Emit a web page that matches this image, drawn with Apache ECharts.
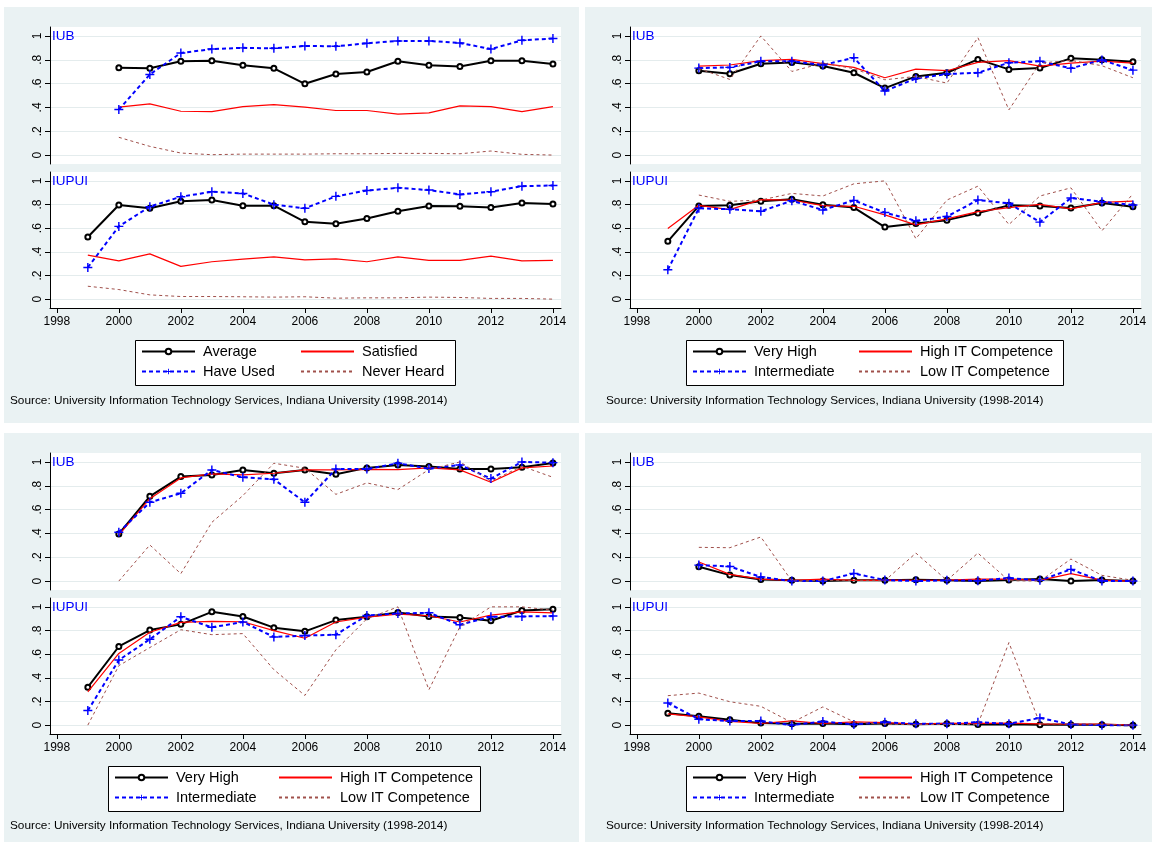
<!DOCTYPE html>
<html>
<head>
<meta charset="utf-8">
<script src="https://cdn.jsdelivr.net/npm/echarts@6/dist/echarts.min.js"></script>
<style>
  html, body { margin: 0; padding: 0; background: #ffffff; }
  #chart { width: 1152px; height: 842px; }
</style>
</head>
<body>
<div id="chart"></div>
<script>
// ---- Data -------------------------------------------------------------
const years = [1999, 2000, 2001, 2002, 2003, 2004, 2005, 2006, 2007, 2008, 2009, 2010, 2011, 2012, 2013, 2014];
const xTicks = [1998, 2000, 2002, 2004, 2006, 2008, 2010, 2012, 2014];
const yTicks = [0, 0.2, 0.4, 0.6, 0.8, 1];
const campuses = ['IUB', 'IUPUI'];
const awarenessNames = ['Average', 'Satisfied', 'Have Used', 'Never Heard'];
const competenceNames = ['Very High', 'High IT Competence', 'Intermediate', 'Low IT Competence'];
const sourceNote = 'Source: University Information Technology Services, Indiana University (1998-2014)';

// Panel A: awareness / use / satisfaction
const aIubAverage    = [null, .733, .728, .787, .792, .753, .728, .598, .680, .697, .787, .753, .744, .792, .792, .764];
const aIubSatisfied  = [null, .402, .430, .368, .365, .407, .424, .402, .374, .374, .343, .354, .413, .407, .365, .407];
const aIubHaveUsed   = [null, .382, .677, .857, .890, .900, .896, .916, .913, .938, .958, .958, .941, .890, .963, .978];
const aIubNeverHeard = [null, .149, .073, .017, .003, .008, .008, .008, .011, .011, .014, .014, .011, .034, .006, .000];

const aIupuiAverage    = [.525, .796, .768, .827, .838, .790, .790, .654, .637, .682, .743, .788, .785, .774, .813, .804];
const aIupuiSatisfied  = [.372, .324, .383, .277, .316, .338, .358, .332, .341, .316, .358, .327, .327, .363, .324, .327];
const aIupuiHaveUsed   = [.268, .615, .782, .866, .908, .894, .799, .768, .869, .919, .941, .922, .885, .908, .955, .961];
const aIupuiNeverHeard = [.109, .081, .036, .022, .022, .020, .017, .020, .008, .011, .011, .017, .014, .006, .006, .000];

// Panel B: by IT competence
const bIubVeryHigh     = [null, .708, .683, .767, .778, .747, .691, .562, .660, .691, .803, .719, .730, .812, .800, .784];
const bIubHigh         = [null, .747, .756, .792, .803, .767, .736, .649, .722, .708, .778, .792, .747, .772, .789, .772];
const bIubIntermediate = [null, .730, .736, .787, .787, .756, .817, .537, .643, .680, .691, .775, .787, .728, .798, .713];
const bIubLow          = [null, .725, .635, 1.00, .702, .772, .725, .632, .660, .604, .986, .379, .772, .795, .750, .649];

const bIupuiVeryHigh     = [.489, .788, .793, .827, .844, .799, .774, .609, .640, .668, .729, .793, .788, .771, .813, .782];
const bIupuiHigh         = [.598, .793, .757, .841, .838, .790, .785, .712, .628, .679, .740, .774, .802, .763, .818, .829];
const bIupuiIntermediate = [.249, .768, .760, .743, .832, .754, .835, .732, .662, .698, .838, .810, .651, .855, .824, .796];
const bIupuiLow          = [null, .880, .827, .838, .894, .872, .975, 1.00, .511, .838, .955, .631, .872, .941, .578, .891];

// Panel C: by IT competence
const cIubVeryHigh     = [null, .395, .711, .877, .891, .933, .905, .933, .896, .950, .975, .961, .941, .941, .955, .992];
const cIubHigh         = [null, .387, .692, .866, .899, .891, .905, .933, .933, .938, .936, .950, .933, .829, .950, .966];
const cIubIntermediate = [null, .409, .661, .737, .933, .871, .854, .661, .941, .941, .989, .944, .975, .860, 1.00, .994];
const cIubLow          = [null, .000, .303, .062, .493, .717, .989, .947, .728, .824, .768, .936, 1.00, .838, .964, .871];

const cIupuiVeryHigh     = [.321, .665, .804, .852, .958, .919, .824, .793, .888, .916, .953, .919, .911, .883, .969, .980];
const cIupuiHigh         = [.282, .606, .785, .869, .877, .874, .799, .735, .872, .913, .939, .925, .872, .930, .958, .950];
const cIupuiIntermediate = [.123, .550, .726, .916, .827, .872, .746, .757, .765, .927, .944, .950, .849, .916, .919, .922];
const cIupuiLow          = [.000, .503, .656, .807, .765, .774, .469, .251, .637, .899, 1.00, .299, .832, 1.00, 1.00, .972];

// Panel D: by IT competence
const dIubVeryHigh     = [null, .120, .050, .014, .006, .000, .006, .006, .011, .006, .000, .008, .017, .000, .008, .000];
const dIubHigh         = [null, .160, .056, .017, .006, .017, .006, .008, .006, .008, .017, .017, .006, .062, .008, .000];
const dIubIntermediate = [null, .134, .123, .034, .000, .000, .064, .008, .000, .006, .003, .025, .006, .098, .000, .000];
const dIubLow          = [null, .283, .280, .370, .000, .006, .006, .003, .235, .006, .235, .003, .000, .185, .048, .006];

const dIupuiVeryHigh     = [.100, .075, .045, .017, .011, .014, .008, .014, .008, .011, .006, .008, .003, .003, .003, .000];
const dIupuiHigh         = [.095, .070, .031, .014, .036, .014, .028, .022, .008, .014, .014, .017, .011, .008, .008, .000];
const dIupuiIntermediate = [.187, .050, .034, .034, .000, .031, .006, .025, .011, .011, .025, .011, .061, .006, .000, .000];
const dIupuiLow          = [.249, .271, .198, .159, .022, .154, .028, .006, .006, .006, .006, .698, .011, .011, .006, .000];

// ---- Panel definitions ---------------------------------------------------
// Each panel: legend names (black, red, blue, brown order) and the values per campus.
const panels = [
  { names: awarenessNames,
    values: [[aIubAverage, aIubSatisfied, aIubHaveUsed, aIubNeverHeard],
             [aIupuiAverage, aIupuiSatisfied, aIupuiHaveUsed, aIupuiNeverHeard]] },
  { names: competenceNames,
    values: [[bIubVeryHigh, bIubHigh, bIubIntermediate, bIubLow],
             [bIupuiVeryHigh, bIupuiHigh, bIupuiIntermediate, bIupuiLow]] },
  { names: competenceNames,
    values: [[cIubVeryHigh, cIubHigh, cIubIntermediate, cIubLow],
             [cIupuiVeryHigh, cIupuiHigh, cIupuiIntermediate, cIupuiLow]] },
  { names: competenceNames,
    values: [[dIubVeryHigh, dIubHigh, dIubIntermediate, dIubLow],
             [dIupuiVeryHigh, dIupuiHigh, dIupuiIntermediate, dIupuiLow]] }
];

// ---- Layout & styles ------------------------------------------------------
const FONT = '"Liberation Sans", Arial, Helvetica, sans-serif';
const PANEL_BG = '#eaf2f3';
const GRIDLINE = '#e4eced';
const origins = [[0, 0], [580, 0], [0, 426], [580, 426]];
const panelRects = [[4, 7, 575, 416], [585, 7, 567, 416], [4, 433, 575, 409], [585, 433, 567, 409]];
const subplotBoxes = [ // relative to panel origin: left, top, width, height
  [50, 27, 511, 137],
  [50, 172, 511, 136]
];
const legendBoxes = [ // x, y, w, h, offset of second column
  [135, 340, 320, 45, 165],
  [686, 340, 377, 45, 172],
  [108, 766, 372, 45, 170],
  [686, 766, 377, 45, 172]
];
const sourcePos = [[10, 401], [606, 401], [10, 826], [606, 826]];

const PLUS = 'path://M4.2,0H5.8V4.2H10V5.8H5.8V10H4.2V5.8H0V4.2H4.2Z';
const CLEAR = 'rgba(0,0,0,0)';
// Unmarked lines keep a transparent marker so their legend key is a bare line.
const seriesStyles = [
  { color: '#000000', lineStyle: { color: '#000000', width: 2, type: 'solid' }, symbol: 'emptyCircle', symbolSize: 5,
    itemStyle: { color: '#000000', borderColor: '#000000', borderWidth: 1.2 } },
  { color: '#ff0000', lineStyle: { color: '#ff0000', width: 1.2, type: 'solid' }, symbol: 'circle', showSymbol: false,
    itemStyle: { color: CLEAR, borderColor: CLEAR, borderWidth: 0 } },
  { color: '#0000ff', lineStyle: { color: '#0000ff', width: 2, type: [4, 3] }, symbol: PLUS, symbolSize: 9,
    itemStyle: { color: '#0000ff' } },
  { color: '#a0504b', lineStyle: { color: '#a0504b', width: 1, type: [3, 3] }, symbol: 'circle', showSymbol: false,
    itemStyle: { color: CLEAR, borderColor: CLEAR, borderWidth: 0 } }
];
const XMIN = 1997.78, XMAX = 2014.26;
const YMIN = -0.075, YMAX = 1.075;

const yLabel = v => {
  const r = Math.round(v * 10) / 10;
  if (Math.abs(v - r) > 1e-6) return '';
  if (r === 0) return '0';
  if (r === 1) return '1';
  return '.' + Math.round(r * 10);
};

const grids = [], xAxes = [], yAxes = [], series = [], legends = [], graphics = [];

panelRects.forEach(r => graphics.push({
  type: 'rect', z: -10, silent: true,
  shape: { x: r[0], y: r[1], width: r[2], height: r[3] },
  style: { fill: PANEL_BG }
}));

panels.forEach((panel, p) => {
  const [ox, oy] = origins[p];
  campuses.forEach((campus, c) => {
    const b = subplotBoxes[c];
    const gi = grids.length;
    grids.push({
      left: ox + b[0], top: oy + b[1], width: b[2], height: b[3],
      show: true, backgroundColor: '#ffffff', borderWidth: 0, containLabel: false
    });
    const showX = c === 1;
    xAxes.push({
      type: 'value', gridIndex: gi, min: XMIN, max: XMAX, show: showX,
      axisLine: { show: true, onZero: false, lineStyle: { color: '#000', width: 1 } },
      axisTick: { show: true, length: 5, customValues: xTicks, lineStyle: { color: '#000' } },
      axisLabel: { customValues: xTicks, color: '#000', fontFamily: FONT, fontSize: 12, margin: 8,
                   formatter: v => String(v) },
      splitLine: { show: false }
    });
    yAxes.push({
      type: 'value', gridIndex: gi, min: YMIN, max: YMAX,
      axisLine: { show: true, onZero: false, lineStyle: { color: '#000', width: 1 } },
      axisTick: { show: true, length: 5, customValues: yTicks, lineStyle: { color: '#000' } },
      axisLabel: { customValues: yTicks, color: '#000', fontFamily: FONT, fontSize: 12, margin: 6,
                   rotate: 90, formatter: yLabel },
      splitLine: { show: true, lineStyle: { color: GRIDLINE, width: 1 } }
    });
    panel.values[c].forEach((vals, s) => {
      const st = seriesStyles[s];
      series.push(Object.assign({
        type: 'line', name: panel.names[s], xAxisIndex: gi, yAxisIndex: gi,
        data: years.map((yr, i) => [yr, vals[i]]),
        connectNulls: false, animation: false, z: 2 + s,
        emphasis: { disabled: true }
      }, st));
    });
    graphics.push({
      type: 'text', silent: true, z: 50,
      x: ox + b[0] + 2, y: oy + b[1] + 2,
      style: { text: campus, fill: '#0000ff', font: '13.5px ' + FONT }
    });
  });

  // legend box with two columns
  const lb = legendBoxes[p];
  graphics.push({
    type: 'rect', silent: true, z: 0,
    shape: { x: lb[0] + 0.5, y: lb[1] + 0.5, width: lb[2], height: lb[3] },
    style: { fill: '#ffffff', stroke: '#000000', lineWidth: 1 }
  });
  [[panel.names[0], panel.names[2]], [panel.names[1], panel.names[3]]].forEach((col, k) => {
    legends.push({
      orient: 'vertical', left: lb[0] + 6 + (k ? lb[4] - 6 : 0), top: lb[1] + 4,
      data: col, itemWidth: 53, itemHeight: 7, itemGap: 5, padding: 0,
      selectedMode: false, z: 10,
      textStyle: { color: '#000', fontFamily: FONT, fontSize: 14.5, padding: [0, 0, 0, 3] }
    });
  });

  graphics.push({
    type: 'text', silent: true, z: 50,
    x: sourcePos[p][0], y: sourcePos[p][1],
    style: { text: sourceNote, fill: '#000', font: '11.8px ' + FONT, verticalAlign: 'middle' }
  });
});

const chart = echarts.init(document.getElementById('chart'), null, { renderer: 'canvas' });
chart.setOption({
  animation: false,
  backgroundColor: '#ffffff',
  grid: grids,
  xAxis: xAxes,
  yAxis: yAxes,
  legend: legends,
  graphic: graphics,
  series: series
});
</script>
</body>
</html>
